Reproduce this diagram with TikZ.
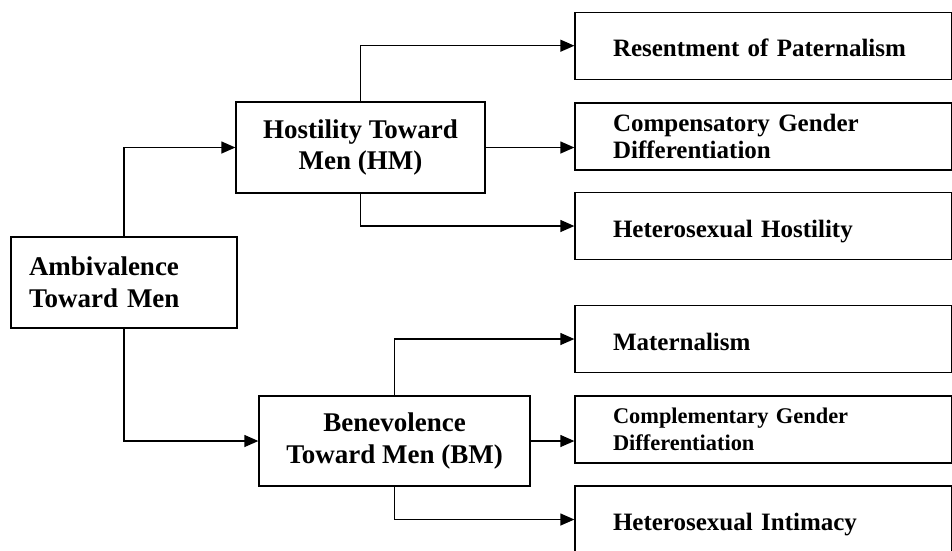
\documentclass[tikz,border=0pt]{standalone}
\usepackage{fontspec}
\setmainfont{Liberation Serif}
\usetikzlibrary{arrows.meta}
\begin{document}
\begin{tikzpicture}[x=1pt,y=1pt,line width=1.3pt,
    >={Triangle[length=14pt,width=12pt]},
    bigbox/.style={draw,rectangle,inner sep=0pt,font=\fontsize{27}{31.7}\selectfont\bfseries},
    leaf/.style={draw,rectangle,minimum width=376.5pt,minimum height=67pt,inner xsep=38pt,
      text width=300.5pt,align=left,font=\fontsize{25}{27.5}\selectfont\bfseries},
    oneline/.style={text height=22pt,text depth=0pt}]
      \useasboundingbox (0,0) rectangle (952,-550);

      \node[bigbox,minimum width=226pt,minimum height=91pt,inner xsep=18pt,text width=190pt,align=left]
        (amb) at (124,-282.5) {Ambivalence\\Toward Men};
      \node[bigbox,minimum width=249pt,minimum height=91pt,align=center]
        (hm) at (360.5,-147.5) {Hostility Toward\\Men (HM)};
      \node[bigbox,minimum width=271pt,minimum height=90pt,align=center]
        (bm) at (394.5,-441) {Benevolence\\Toward Men (BM)};

      \node[leaf,oneline] (rp) at (763.25,-45.7) {Resentment of Paternalism};
      \node[leaf] (cg) at (763.25,-136.5) {Compensatory Gender\\Differentiation};
      \node[leaf,oneline] (hh) at (763.25,-226) {Heterosexual Hostility};
      \node[leaf,oneline] (mat) at (763.25,-339) {Maternalism};
      \node[leaf,font=\fontsize{22.4}{26.7}\selectfont\bfseries] (cd) at (763.25,-429.5) {Complementary Gender\\Differentiation};
      \node[leaf,oneline] (hi) at (763.25,-519.5) {Heterosexual Intimacy};

      \draw[->] (amb.north) |- (hm.west);
      \draw[->] (amb.south) |- (bm.west);

      \draw[->] (hm.north) |- (rp.west);
      \draw[->] (hm.east) -- (hm.east -| cg.west);
      \draw[->] (hm.south) |- (hh.west);

      \draw[->] (bm.north) |- (mat.west);
      \draw[->] (bm.east) -- (bm.east -| cd.west);
      \draw[->] (bm.south) |- (hi.west);
    \end{tikzpicture}
\end{document}
